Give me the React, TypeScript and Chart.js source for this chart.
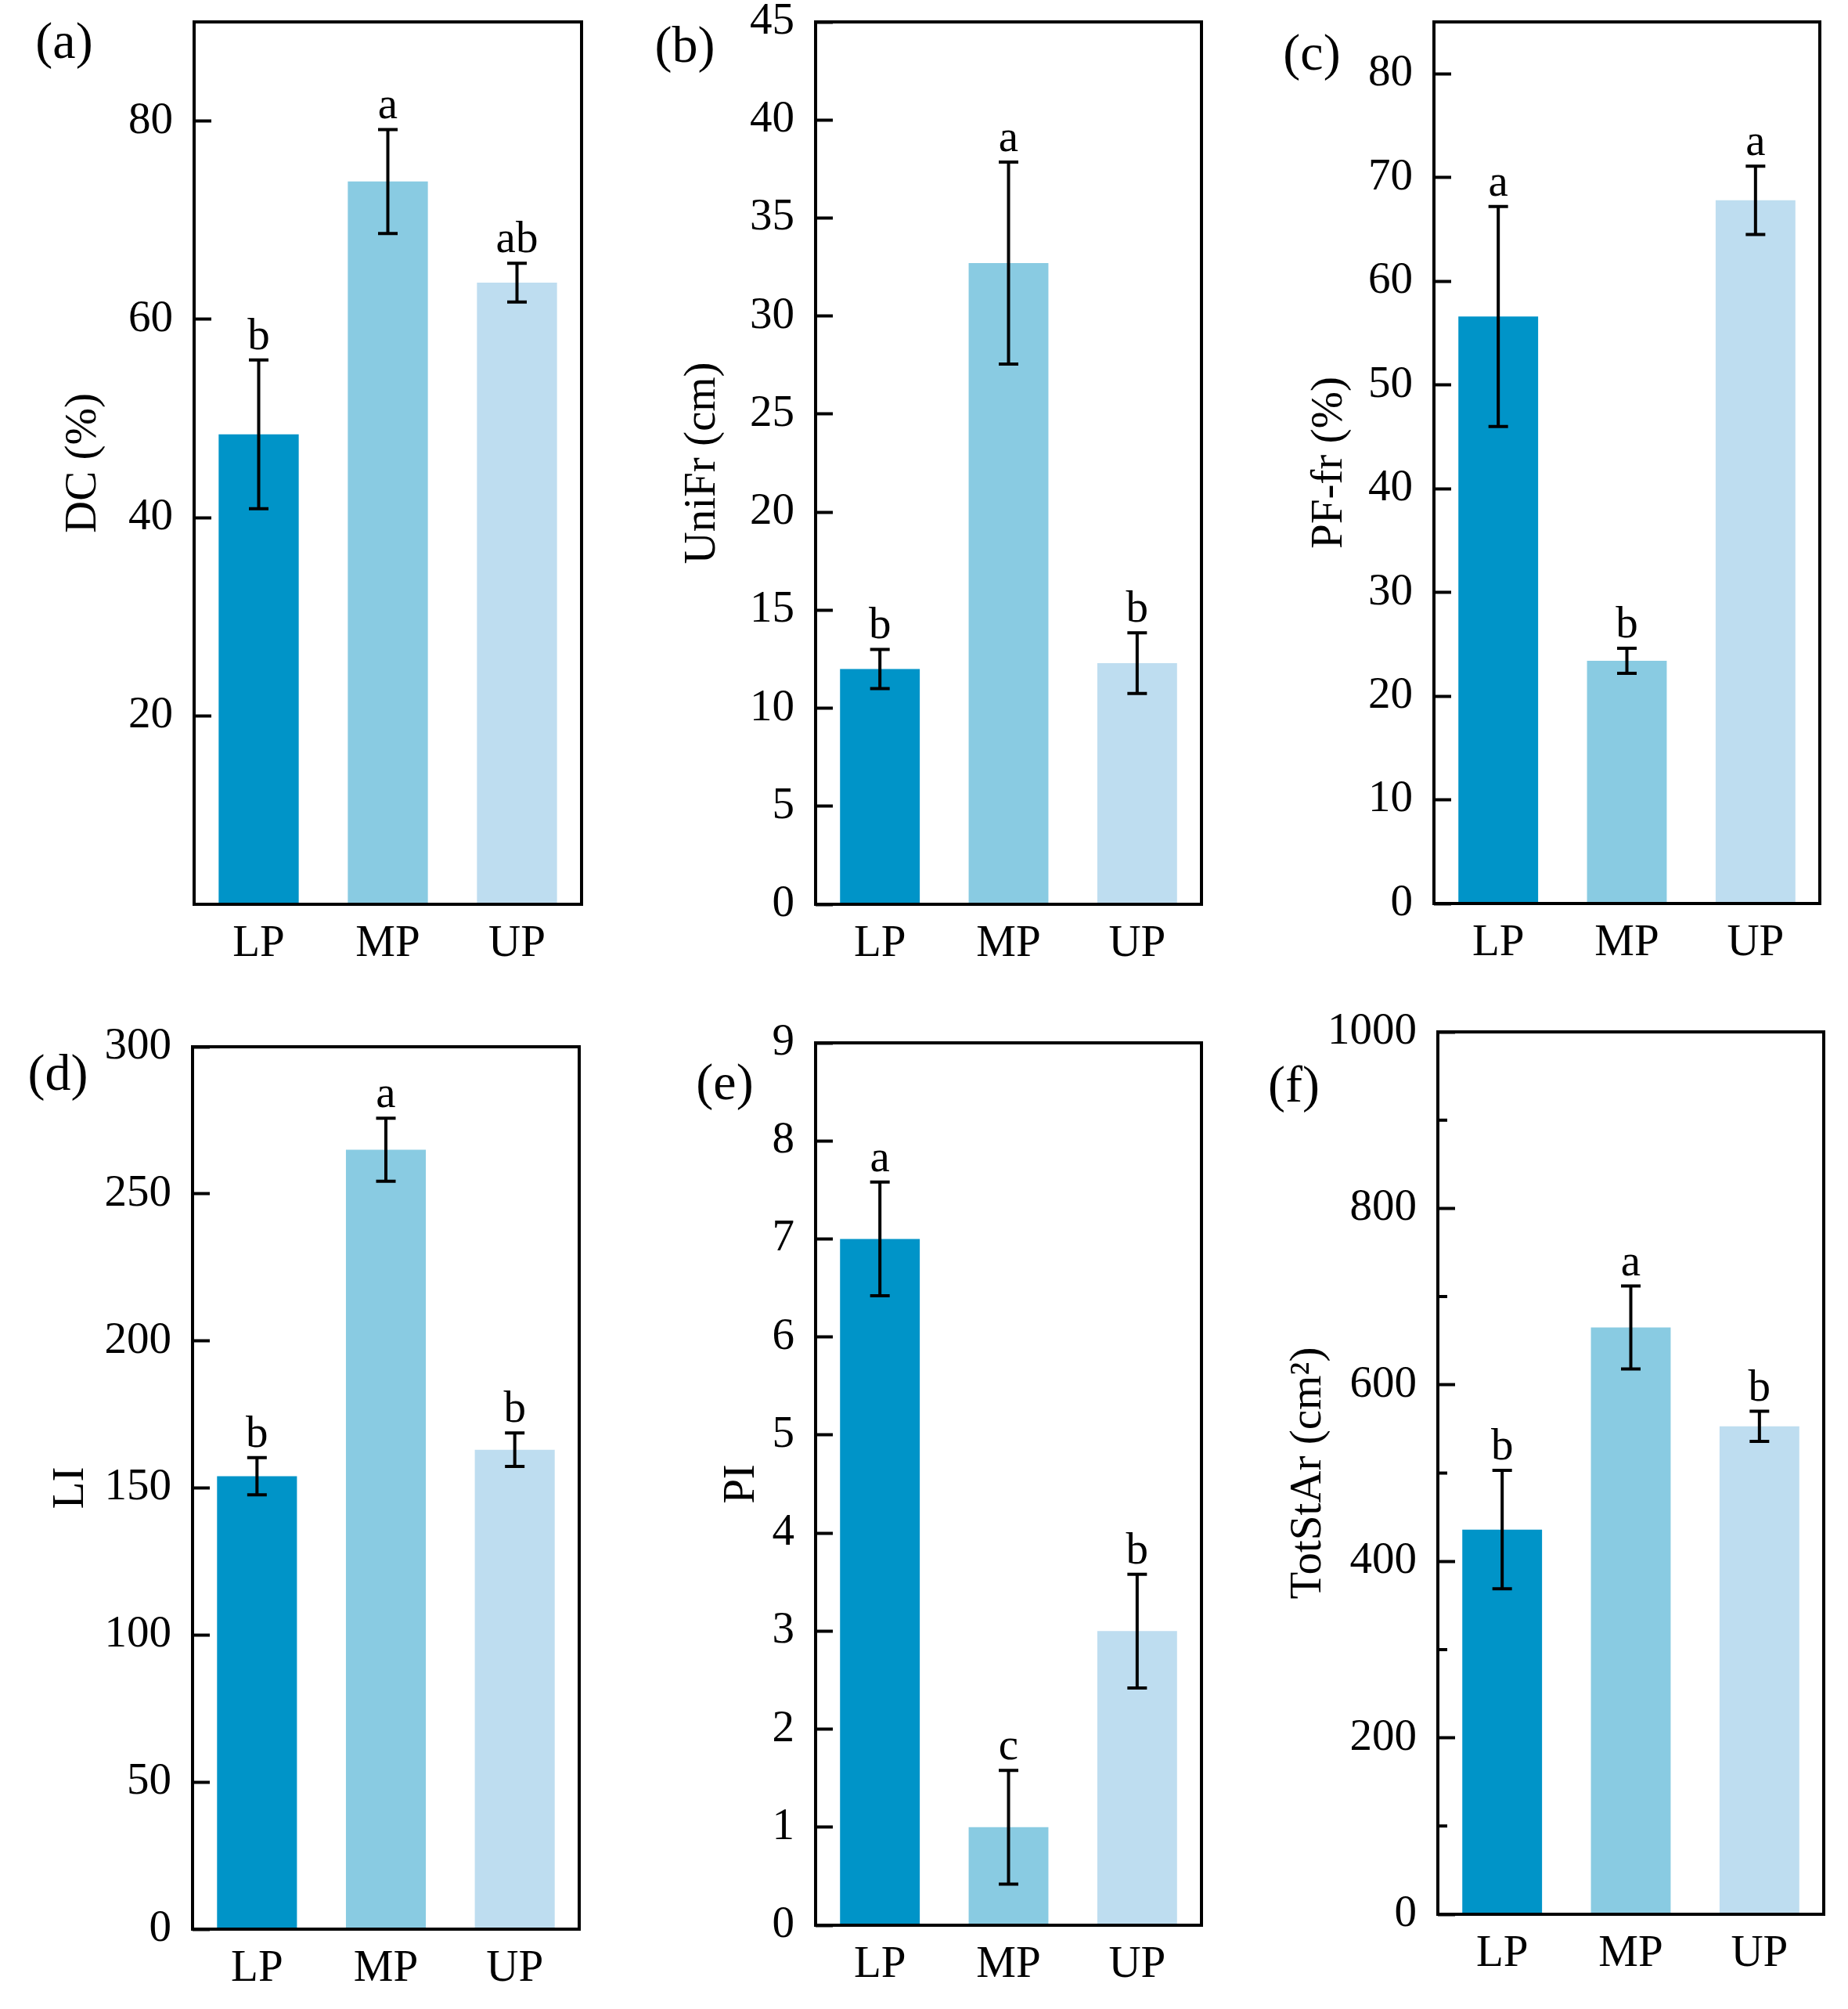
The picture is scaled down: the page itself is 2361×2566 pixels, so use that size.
import React, { useEffect, useRef } from 'react'
import { Chart, registerables } from 'chart.js'

Chart.register(...registerables)

const FONT = "'Liberation Serif', 'Times New Roman', serif"

// data
const categories = ['LP', 'MP', 'UP']
const barColors = ['#0094C8', '#89CBE2', '#BEDDF0']

const dcValues = [48.4, 73.9, 63.7]
const dcErrors = [7.5, 5.25, 1.95]
const dcLetters = ['b', 'a', 'ab']
const dcTicks = [20, 40, 60, 80]

const unifrValues = [12.0, 32.7, 12.3]
const unifrErrors = [1.0, 5.15, 1.55]
const unifrLetters = ['b', 'a', 'b']
const unifrTicks = [0, 5, 10, 15, 20, 25, 30, 35, 40, 45]

const pffrValues = [56.6, 23.4, 67.8]
const pffrErrors = [10.6, 1.2, 3.3]
const pffrLetters = ['a', 'b', 'a']
const pffrTicks = [0, 10, 20, 30, 40, 50, 60, 70, 80]

const liValues = [154, 265, 163]
const liErrors = [6.3, 10.7, 5.7]
const liLetters = ['b', 'a', 'b']
const liTicks = [0, 50, 100, 150, 200, 250, 300]

const piValues = [7.0, 1.0, 3.0]
const piErrors = [0.58, 0.58, 0.58]
const piLetters = ['a', 'c', 'b']
const piTicks = [0, 1, 2, 3, 4, 5, 6, 7, 8, 9]

const totstarValues = [436, 665, 553]
const totstarErrors = [67, 47, 17]
const totstarLetters = ['b', 'a', 'b']
const totstarTicks = [0, 200, 400, 600, 800, 1000]
const totstarMinorTicks = [100, 300, 500, 700, 900]

interface PlotBox { left: number; top: number; right: number; bottom: number }

interface PanelProps {
    values: number[];
    errors: number[];
    letters: string[];
    ticks: number[];
    minorTicks?: number[];
    min: number;
    max: number;
    yTitle: string;
    label: string;
    plot: PlotBox;
    titleX: number;
    labelX: number;
    labelY: number;
}

const Panel: React.FC<PanelProps> = (p) => {
    const canvasRef = useRef<HTMLCanvasElement>(null)
    const chartRef = useRef<Chart | null>(null)

    const cLeft = p.plot.left - 240
    const cTop = p.plot.top - 40
    const cRight = p.plot.right + 24
    const cBottom = p.plot.bottom + 110
    const cw = cRight - cLeft
    const ch = cBottom - cTop

    useEffect(() => {
        if (!canvasRef.current) return
        const ctx = canvasRef.current.getContext('2d')
        if (!ctx) return
        if (chartRef.current) chartRef.current.destroy()

        const fontSize = 57
        const titlePad = (p.titleX - cLeft) - fontSize * 1.2 / 2

        const decorPlugin = {
            id: 'decor',
            afterDatasetsDraw(chart: Chart) {
                const c = chart.ctx
                const x = chart.scales.x
                const y = chart.scales.y
                c.save()
                c.strokeStyle = '#000'
                c.fillStyle = '#000'
                c.lineWidth = 4
                c.font = `${fontSize}px ${FONT}`
                c.textAlign = 'center'
                c.textBaseline = 'alphabetic'
                p.values.forEach((v, i) => {
                    const xc = x.getPixelForValue(i)
                    const yt = y.getPixelForValue(v + p.errors[i])
                    const yb = y.getPixelForValue(v - p.errors[i])
                    c.beginPath()
                    c.moveTo(xc, yt)
                    c.lineTo(xc, yb)
                    c.moveTo(xc - 12.5, yt)
                    c.lineTo(xc + 12.5, yt)
                    c.moveTo(xc - 12.5, yb)
                    c.lineTo(xc + 12.5, yb)
                    c.stroke()
                    c.fillText(p.letters[i], xc, yt - 14)
                })
                c.restore()
            },
            afterDraw(chart: Chart) {
                const c = chart.ctx
                const a = chart.chartArea
                const y = chart.scales.y
                c.save()
                c.strokeStyle = '#000'
                c.lineWidth = 4
                if (p.minorTicks) {
                    c.beginPath()
                    p.minorTicks.forEach(v => {
                        const py = y.getPixelForValue(v)
                        c.moveTo(a.left, py)
                        c.lineTo(a.left + 12, py)
                    })
                    c.stroke()
                }
                c.strokeRect(a.left, a.top, a.right - a.left, a.bottom - a.top)
                c.restore()
            }
        }

        chartRef.current = new Chart(ctx, {
            type: 'bar',
            data: {
                labels: categories,
                datasets: [{
                    data: p.values,
                    backgroundColor: barColors,
                    borderWidth: 0,
                    barPercentage: 0.62,
                    categoryPercentage: 1
                }]
            },
            options: {
                responsive: false,
                animation: false,
                devicePixelRatio: 1,
                layout: {
                    padding: { left: 0, top: p.plot.top - cTop, right: cRight - p.plot.right, bottom: 0 }
                },
                plugins: {
                    legend: { display: false },
                    tooltip: { enabled: false }
                },
                scales: {
                    x: {
                        type: 'category',
                        offset: true,
                        grid: { display: false, drawTicks: false },
                        border: { display: false },
                        ticks: { color: '#000', font: { family: FONT, size: fontSize }, padding: 17, maxRotation: 0 },
                        afterFit: (s: any) => {
                            s.height = cBottom - p.plot.bottom
                            s.paddingLeft = 0
                            s.paddingRight = 0
                        }
                    },
                    y: {
                        type: 'linear',
                        min: p.min,
                        max: p.max,
                        afterBuildTicks: (s: any) => {
                            s.ticks = p.ticks.map(value => ({ value }))
                        },
                        grid: {
                            drawOnChartArea: false,
                            drawTicks: true,
                            tickLength: -22,
                            tickWidth: 4,
                            tickColor: '#000'
                        },
                        border: { display: false },
                        ticks: {
                            color: '#000',
                            font: { family: FONT, size: fontSize },
                            padding: 49,
                            callback: (v: any) => String(v)
                        },
                        title: {
                            display: true,
                            text: p.yTitle,
                            color: '#000',
                            font: { family: FONT, size: fontSize },
                            padding: { top: titlePad, bottom: 0 }
                        },
                        afterFit: (s: any) => {
                            s.width = p.plot.left - cLeft
                            s.paddingTop = 0
                            s.paddingBottom = 0
                        }
                    }
                }
            },
            plugins: [decorPlugin]
        })

        return () => {
            if (chartRef.current) {
                chartRef.current.destroy()
                chartRef.current = null
            }
        }
    }, [p])

    return (
        <>
            <canvas
                ref={canvasRef}
                width={cw}
                height={ch}
                style={{ position: 'absolute', left: cLeft, top: cTop, width: cw, height: ch }}
            />
            <div style={{
                position: 'absolute',
                left: p.labelX,
                top: p.labelY - 5,
                transform: 'translate(-50%, -50%)',
                fontFamily: FONT,
                fontSize: 66,
                lineHeight: 1,
                color: '#000',
                whiteSpace: 'nowrap'
            }}>{p.label}</div>
        </>
    )
}

const panels: PanelProps[] = [
    { values: dcValues, errors: dcErrors, letters: dcLetters, ticks: dcTicks, min: 1, max: 90, yTitle: 'DC (%)', label: '(a)',
        plot: { left: 248, top: 28, right: 743, bottom: 1155 }, titleX: 107, labelX: 82, labelY: 57 },
    { values: unifrValues, errors: unifrErrors, letters: unifrLetters, ticks: unifrTicks, min: 0, max: 45, yTitle: 'UniFr (cm)', label: '(b)',
        plot: { left: 1042, top: 28, right: 1535, bottom: 1155 }, titleX: 898, labelX: 875, labelY: 62 },
    { values: pffrValues, errors: pffrErrors, letters: pffrLetters, ticks: pffrTicks, min: 0, max: 85, yTitle: 'PF-fr (%)', label: '(c)',
        plot: { left: 1832, top: 28, right: 2325, bottom: 1154 }, titleX: 1699, labelX: 1676, labelY: 72 },
    { values: liValues, errors: liErrors, letters: liLetters, ticks: liTicks, min: 0, max: 300, yTitle: 'LI', label: '(d)',
        plot: { left: 246, top: 1337, right: 740, bottom: 2464 }, titleX: 91, labelX: 74, labelY: 1375 },
    { values: piValues, errors: piErrors, letters: piLetters, ticks: piTicks, min: 0, max: 9, yTitle: 'PI', label: '(e)',
        plot: { left: 1042, top: 1332, right: 1535, bottom: 2459 }, titleX: 948, labelX: 926, labelY: 1387 },
    { values: totstarValues, errors: totstarErrors, letters: totstarLetters, ticks: totstarTicks, minorTicks: totstarMinorTicks,
        min: 0, max: 1000, yTitle: 'TotStAr (cm²)', label: '(f)',
        plot: { left: 1837, top: 1318, right: 2330, bottom: 2445 }, titleX: 1672, labelX: 1653, labelY: 1390 }
]

export default function App() {
    useEffect(() => {
        document.body.style.margin = '0'
    }, [])

    return (
        <div style={{ position: 'relative', width: 2361, height: 2566, background: '#fff', overflow: 'hidden' }}>
            {panels.map(pp => <Panel key={pp.label} {...pp} />)}
        </div>
    )
}
